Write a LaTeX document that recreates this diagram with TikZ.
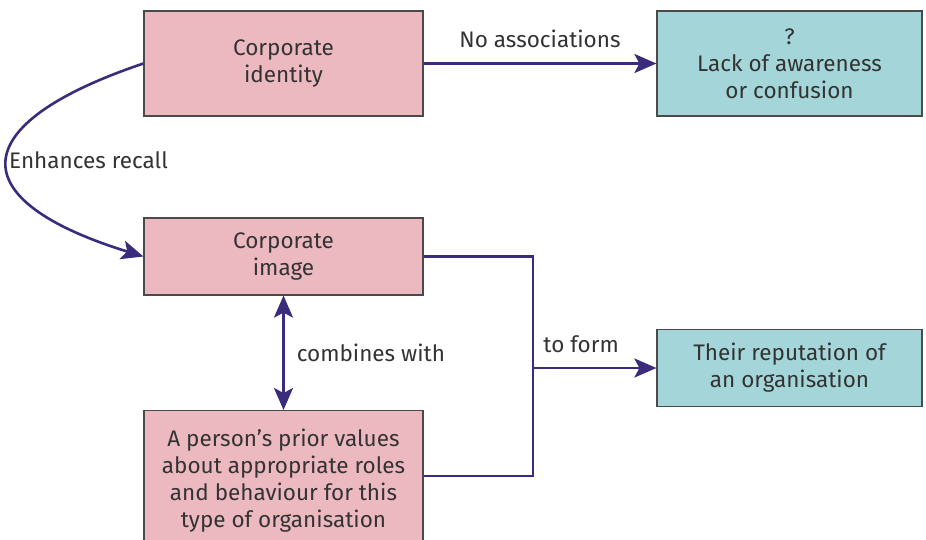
\documentclass[tikz,border=0pt]{standalone}
\usepackage{fontspec}
\setmainfont{Fira Sans}
\usetikzlibrary{arrows.meta,calc}
\definecolor{pinkfill}{HTML}{EDB9C0}
\definecolor{tealfill}{HTML}{A4D6D9}
\definecolor{arrowcol}{HTML}{3B2B7C}
\definecolor{txt}{HTML}{333333}
\definecolor{edge}{HTML}{4A4A4A}
\tikzset{
  box/.style={draw=edge, line width=1.2pt, minimum width=279pt, align=center, inner sep=0pt,
    font=\fontsize{22.5}{27}\selectfont, text=txt},
  pinkbox/.style={box, fill=pinkfill},
  tealbox/.style={box, fill=tealfill, minimum width=265pt},
  conn/.style={draw=arrowcol, line width=2.6pt, -{Stealth[length=22pt,width=19pt,inset=5pt]}},
  biconn/.style={draw=arrowcol, line width=2.6pt, {Stealth[length=22pt,width=19pt,inset=5pt]}-{Stealth[length=22pt,width=19pt,inset=5pt]}},
  plain/.style={draw=arrowcol, line width=2.6pt},
  lbl/.style={font=\fontsize{22.5}{27}\selectfont, text=txt, inner sep=0pt}
}
\begin{document}
\begin{tikzpicture}[x=1pt,y=-1pt]
\useasboundingbox (0,0) rectangle (926,539);
\clip (0,0) rectangle (926,539);
\fill[white] (0,0) rectangle (926,539);
\node[pinkbox, minimum height=105pt] (ident) at (283.5,63.5) {Corporate\\identity};
\node[tealbox, minimum height=105pt] (lack) at (789.5,63.5) {?\\Lack of awareness\\or confusion};
\node[pinkbox, minimum height=77pt] (img) at (283.5,256.5) {Corporate\\image};
\node[pinkbox, minimum height=140pt, anchor=north] (pers) at (283.5,410) {A person's prior values\\about appropriate roles\\and behaviour for this\\type of organisation};
\node[tealbox, minimum height=77pt] (rep) at (789.5,368) {Their reputation of\\an organisation};
\coordinate (persr) at ($(pers.north east)+(0,66)$);
\coordinate (join) at (533,368);
\draw[conn] (ident.east) -- node[lbl, above=14pt] {No associations} (lack.west);
\draw[conn] (ident.west) .. controls (-36,124) and (-40,200) .. (img.west);
\node[lbl, anchor=west] (enh) at (9,160) {Enhances recall};
\draw[biconn] (img.south) -- node[lbl, right=12pt] {combines with} (pers.north);
\draw[plain] (img.east) -| (join) |- (persr);
\draw[conn] (join) -- node[lbl, above=14pt, pos=0.39] {to form} (rep.west);
\end{tikzpicture}
\end{document}
